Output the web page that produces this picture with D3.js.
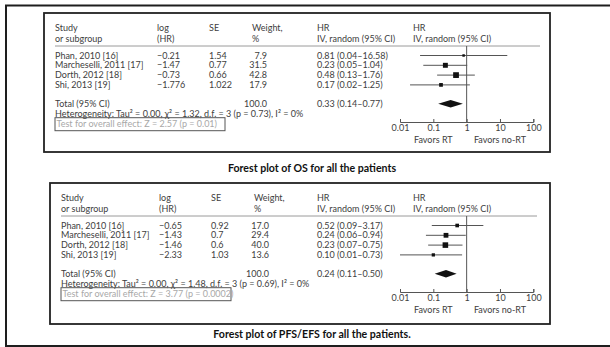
<!DOCTYPE html>
<html>
<head>
<meta charset="utf-8">
<script src="https://cdn.jsdelivr.net/npm/d3@7"></script>
<style>
  body { margin: 0; background: #fff; }
  svg { display: block; }
</style>
</head>
<body>
<div id="chart"></div>
<script>
// study labels shared by both plots
const studies = ['Phan, 2010 [16]', 'Marcheselli, 2011 [17]', 'Dorth, 2012 [18]', 'Shi, 2013 [19]'];

// OS
const osLogHR = [-0.21, -1.47, -0.73, -1.776];
const osSE = [1.54, 0.77, 0.66, 1.022];
const osWeight = [7.9, 31.5, 42.8, 17.9];
const osHR = [0.81, 0.23, 0.48, 0.17];
const osLow = [0.04, 0.05, 0.13, 0.02];
const osHigh = [16.58, 1.04, 1.76, 1.25];
const osTotal = [0.33, 0.14, 0.77];
const osHetero = 'Heterogeneity: Tau² = 0.00, χ² = 1.32, d.f. = 3 (p = 0.73), I² = 0%';
const osTest = 'Test for overall effect: Z = 2.57 (p = 0.01)';
const osCaption = 'Forest plot of OS for all the patients';

// PFS/EFS
const pfsLogHR = [-0.65, -1.43, -1.46, -2.33];
const pfsSE = [0.92, 0.7, 0.6, 1.03];
const pfsWeight = [17.0, 29.4, 40.0, 13.6];
const pfsHR = [0.52, 0.24, 0.23, 0.10];
const pfsLow = [0.09, 0.06, 0.07, 0.01];
const pfsHigh = [3.17, 0.94, 0.75, 0.73];
const pfsTotal = [0.24, 0.11, 0.50];
const pfsHetero = 'Heterogeneity: Tau² = 0.00, χ² = 1.48, d.f. = 3 (p = 0.69), I² = 0%';
const pfsTest = 'Test for overall effect: Z = 3.77 (p = 0.0002)';
const pfsCaption = 'Forest plot of PFS/EFS for all the patients.';

const axisTicks = [0.01, 0.1, 1, 10, 100];
const favorLabels = ['Favors RT', 'Favors no-RT'];
const favorAt = [0.1, 10];

const width = 610;
const height = 347;
const textColor = '#404040';
const font = "Lato, 'Open Sans', sans-serif";
const fontSize = 9;

const svg = d3
    .select('#chart')
    .append('svg')
    .attr('width', width)
    .attr('height', height)
    .attr('viewBox', [0, 0, width, height]);

// outer frame, runs off the right edge
svg.append('rect')
    .attr('x', 6)
    .attr('y', 5.5)
    .attr('width', 640)
    .attr('height', 340.5)
    .attr('fill', 'none')
    .attr('stroke', '#1e1e1e')
    .attr('stroke-width', 2);

const minus = (v) => String(v).replace('-', '\u2212');

function drawPanel(p) {
    const g = svg.append('g').attr('transform', `translate(0,${p.top})`)
        .attr('font-family', font).attr('font-size', fontSize).attr('fill', textColor);

    g.append('rect')
        .attr('x', p.boxX)
        .attr('y', 0)
        .attr('width', 550 - p.boxX)
        .attr('height', p.boxH)
        .attr('fill', 'none')
        .attr('stroke', '#222')
        .attr('stroke-width', 1.8);

    const s = p.shift;
    const col = {
        study: p.boxX + 11, log: 157 + s, se: 209 + s, weight: 252 + s, weightEnd: 267 + s, hr: 317, plot: 413
    };
    const x = d3.scaleLog().domain([0.01, 100]).range([400, 533.3]);
    const size = d3.scaleSqrt().domain([0, 100]).range([0, 8.8]);
    const rowY = d3.scaleLinear().domain([0, 1]).range([42.5, 52.3]);
    const totalY = rowY(4) + 9;

    const headers = [
        [col.study, 'Study', 'or subgroup'],
        [col.log, 'log', '(HR)'],
        [col.se, 'SE', ''],
        [col.weight, 'Weight,', '%'],
        [col.hr, 'HR', 'IV, random (95% CI)'],
        [col.plot, 'HR', 'IV, random (95% CI)']
    ];
    headers.forEach(([hx, a, b]) => {
        g.append('text').attr('x', hx).attr('y', 15).attr('dy', '0.35em').text(a);
        g.append('text').attr('x', hx).attr('y', 26).attr('dy', '0.35em').text(b);
    });

    g.append('line')
        .attr('x1', col.study).attr('x2', p.sepEnd)
        .attr('y1', 33).attr('y2', 33)
        .attr('stroke', '#9a9a9a').attr('stroke-width', 1);

    const rows = studies.map((st, i) => ({
        study: st, log: p.logHR[i], se: p.se[i], w: p.weight[i], hr: p.hr[i], lo: p.low[i], hi: p.high[i], i
    }));

    const row = g.selectAll('.row').data(rows).join('g')
        .attr('transform', (d) => `translate(0,${rowY(d.i)})`);
    row.append('text').attr('x', col.study).attr('dy', '0.35em').text((d) => d.study);
    row.append('text').attr('x', col.log).attr('dy', '0.35em').text((d) => minus(d.log));
    row.append('text').attr('x', col.se).attr('dy', '0.35em').text((d) => String(d.se));
    row.append('text').attr('x', col.weightEnd).attr('dy', '0.35em').attr('text-anchor', 'end')
        .text((d) => d.w.toFixed(1));
    row.append('text').attr('x', col.hr).attr('dy', '0.35em')
        .text((d) => `${d.hr.toFixed(2)} (${d.lo.toFixed(2)}\u2013${d.hi.toFixed(2)})`);

    // CI whiskers and weight squares
    row.append('line')
        .attr('x1', (d) => x(d.lo)).attr('x2', (d) => x(d.hi))
        .attr('stroke', '#555').attr('stroke-width', 1);
    row.append('rect')
        .attr('x', (d) => x(d.hr) - size(d.w) / 2)
        .attr('y', (d) => -size(d.w) / 2)
        .attr('width', (d) => size(d.w))
        .attr('height', (d) => size(d.w))
        .attr('fill', '#111');

    // total
    g.append('text').attr('x', col.study).attr('y', totalY).attr('dy', '0.35em').text('Total (95% CI)');
    g.append('text').attr('x', col.weightEnd).attr('y', totalY).attr('dy', '0.35em')
        .attr('text-anchor', 'end').text('100.0');
    g.append('text').attr('x', col.hr).attr('y', totalY).attr('dy', '0.35em')
        .text(`${p.total[0].toFixed(2)} (${p.total[1].toFixed(2)}\u2013${p.total[2].toFixed(2)})`);
    const [t, lo, hi] = p.total;
    g.append('path')
        .attr('d', `M${x(lo)},${totalY}L${x(t)},${totalY - 3.8}L${x(hi)},${totalY}L${x(t)},${totalY + 3.8}Z`)
        .attr('fill', '#111');

    g.append('text').attr('x', col.study).attr('y', totalY + 10.5).attr('dy', '0.35em').text(p.hetero);

    g.append('rect')
        .attr('x', col.study).attr('y', totalY + 14)
        .attr('width', p.testW).attr('height', 13)
        .attr('fill', 'none').attr('stroke', '#555').attr('stroke-width', 1);
    g.append('text').attr('x', col.study + 1.5).attr('y', totalY + 20.5).attr('dy', '0.35em')
        .attr('fill', '#a8a8a8').text(p.test);

    // null line and axis
    const axisY = 109;
    g.append('line')
        .attr('x1', x(1)).attr('x2', x(1))
        .attr('y1', 33).attr('y2', axisY)
        .attr('stroke', '#555').attr('stroke-width', 1);

    g.append('g')
        .attr('transform', `translate(0,${axisY})`)
        .call(d3.axisBottom(x).tickValues(axisTicks).tickFormat((d) => String(d)).tickSize(-3).tickPadding(3))
        .call((a) => a.select('.domain').attr('stroke', '#555'))
        .call((a) => a.selectAll('.tick line').attr('stroke', '#555'))
        .call((a) => a.selectAll('.tick text')
            .attr('font-family', font).attr('font-size', fontSize).attr('fill', textColor));

    g.selectAll('.favor').data(favorLabels).join('text')
        .attr('x', (d, i) => x(favorAt[i]))
        .attr('y', axisY + 17.8)
        .attr('dy', '0.35em')
        .attr('text-anchor', 'middle')
        .text((d) => d);

    svg.append('text')
        .attr('x', 312)
        .attr('y', p.captionY)
        .attr('dy', '0.35em')
        .attr('text-anchor', 'middle')
        .attr('font-family', "Lato, 'Open Sans', sans-serif")
        .attr('font-weight', 'bold')
        .attr('font-size', 10.6)
        .attr('fill', '#111')
        .text(p.caption);
}

drawPanel({
    top: 13, boxX: 44, boxH: 139, sepEnd: 540, testW: 170, shift: 0,
    logHR: osLogHR, se: osSE, weight: osWeight, hr: osHR, low: osLow, high: osHigh,
    total: osTotal, hetero: osHetero, test: osTest, caption: osCaption, captionY: 168
});

drawPanel({
    top: 183, boxX: 50, boxH: 141, sepEnd: 537, testW: 170, shift: 2,
    logHR: pfsLogHR, se: pfsSE, weight: pfsWeight, hr: pfsHR, low: pfsLow, high: pfsHigh,
    total: pfsTotal, hetero: pfsHetero, test: pfsTest, caption: pfsCaption, captionY: 334
});
</script>
</body>
</html>
